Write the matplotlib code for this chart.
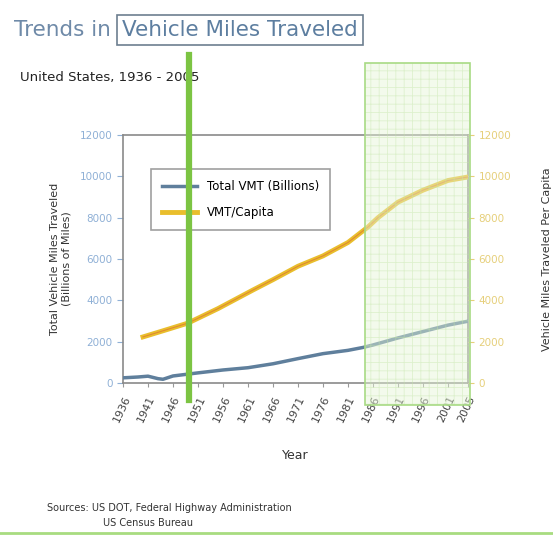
import matplotlib
matplotlib.use('Agg')
import matplotlib.pyplot as plt
from matplotlib.patches import Rectangle
from matplotlib.lines import Line2D

# data
years_vmt = [1936, 1939, 1941, 1943, 1944, 1946, 1951, 1956, 1961, 1966, 1971,
             1976, 1981, 1984, 1986, 1991, 1996, 2001, 2005]
total_vmt = [250, 290, 330, 210, 180, 340, 490, 630, 740, 930, 1180,
             1420, 1580, 1720, 1840, 2180, 2490, 2800, 2990]

years_cap = [1940, 1945, 1949, 1955, 1962, 1966, 1971, 1976, 1981, 1985, 1987,
             1991, 1996, 2001, 2005]
vmt_capita = [2230, 2600, 2900, 3600, 4500, 5000, 5650, 6150, 6800, 7550, 8000,
              8750, 9330, 9800, 9970]

xticks = [1936, 1941, 1946, 1951, 1956, 1961, 1966, 1971, 1976, 1981, 1986,
          1991, 1996, 2001, 2005]
yticks = [0, 2000, 4000, 6000, 8000, 10000, 12000]

W, H = 553, 535
fig = plt.figure(figsize=(W / 100, H / 100), dpi=100)
fig.patch.set_facecolor('white')

def fx(px):
    return px / W

def fy(py):
    return 1 - py / H

ax = fig.add_axes([fx(123), fy(383), fx(468) - fx(123), fy(135) - fy(383)])
ax.set_xlim(1936, 2005)
ax.set_ylim(0, 12000)

blue = '#5f7f9c'
gold = '#e9be2c'
ax.plot(years_vmt, total_vmt, color=blue, lw=2.5, label='Total VMT (Billions)', zorder=3)
ax.plot(years_cap, vmt_capita, color=gold, lw=3.5, label='VMT/Capita', zorder=3)
ax.plot(years_cap, vmt_capita, color='#e08a30', lw=0.8, zorder=4)

for s in ['left', 'right', 'top', 'bottom']:
    ax.spines[s].set_color('#8a8a8a')
    ax.spines[s].set_linewidth(1.2)

ax.set_xticks(xticks)
ax.set_xticklabels([str(y) for y in xticks], rotation=65, fontsize=8,
                   color='#444444', ha='right', rotation_mode='anchor')
ax.tick_params(axis='x', length=3, color='#999999', pad=5)
ax.set_yticks(yticks)
ax.set_yticklabels([str(v) for v in yticks], fontsize=7.5, color='#8fb0d6')
ax.tick_params(axis='y', length=4, color='#8fb0d6')

ax2 = ax.twinx()
ax2.set_ylim(0, 12000)
ax2.set_yticks(yticks)
ax2.set_yticklabels([str(v) for v in yticks], fontsize=7.5, color='#e6cf7a')
ax2.tick_params(axis='y', length=4, color='#e6cf7a')
for s in ax2.spines.values():
    s.set_visible(False)

ax.set_xlabel('Year', fontsize=9, color='#333333', labelpad=18)
ax.set_ylabel('Total Vehicle Miles Traveled\n(Billions of Miles)', fontsize=8,
              color='#333333', labelpad=6)
ax2.set_ylabel('Vehicle Miles Traveled Per Capita', fontsize=8,
               color='#333333', labelpad=22)

leg = ax.legend(loc='upper left', bbox_to_anchor=(0.065, 0.885), fontsize=8.5,
                frameon=True, fancybox=False, handlelength=3, borderpad=0.9,
                labelspacing=1.1)
leg.get_frame().set_edgecolor('#888888')
leg.get_frame().set_linewidth(1.2)

# title and notes
fig.text(fx(14), fy(30), 'Trends in ', fontsize=15.5, color='#6f8aa8', va='center')
fig.text(fx(122), fy(30), 'Vehicle Miles Traveled', fontsize=15.5, color='#5d7ea0',
         va='center', bbox=dict(boxstyle='square,pad=0.25', fc='white', ec='#6d7f90', lw=1.2))
fig.text(fx(20), fy(77), 'United States, 1936 - 2005', fontsize=9.5, color='#222222', va='center')
fig.text(fx(47), fy(508), 'Sources: US DOT, Federal Highway Administration', fontsize=7,
         color='#333333', va='center')
fig.text(fx(103), fy(523), 'US Census Bureau', fontsize=7, color='#333333', va='center')

# green overlay marks
plt.rcParams['hatch.linewidth'] = 0.6
fig.patches.append(Rectangle((fx(365), fy(405)), fx(470) - fx(365), fy(63) - fy(405),
                             transform=fig.transFigure, facecolor='#e6f5d6',
                             edgecolor='#c4e6a8', hatch='++', lw=0, alpha=0.45, zorder=5))
fig.patches.append(Rectangle((fx(365), fy(405)), fx(470) - fx(365), fy(63) - fy(405),
                             transform=fig.transFigure, facecolor='none',
                             edgecolor='#a8da84', lw=1.2, zorder=6))
fig.lines.append(Line2D([fx(189), fx(189)], [fy(55), fy(400)], transform=fig.transFigure,
                        color='#7cc443', lw=4.5, zorder=7))
fig.lines.append(Line2D([0, 1], [fy(533), fy(533)], transform=fig.transFigure,
                        color='#a8dc80', lw=2, zorder=7))

fig.savefig('out.png', dpi=100)
